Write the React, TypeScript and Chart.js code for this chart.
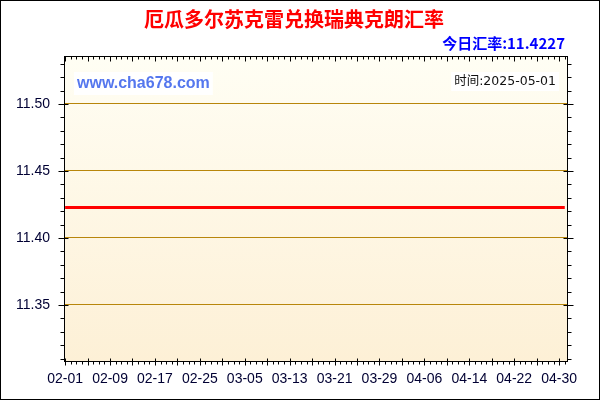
import React, { useEffect, useRef } from "react";
import { Chart, registerables } from "chart.js";

Chart.register(...registerables);

// day index 0 = 02-01, 89 = 05-01
const tickDays = [0, 8, 16, 24, 32, 40, 48, 56, 64, 72, 80, 88];
const tickLabels = [
  "02-01", "02-09", "02-17", "02-25", "03-05", "03-13",
  "03-21", "03-29", "04-06", "04-14", "04-22", "04-30",
];
const yTicks = [11.35, 11.4, 11.45, 11.5];

const rates = [
  11.4227, 11.4227, 11.4227, 11.4227, 11.4227, 11.4227, 11.4227, 11.4227, 11.4227, 11.4227,
  11.4227, 11.4227, 11.4227, 11.4227, 11.4227, 11.4227, 11.4227, 11.4227, 11.4227, 11.4227,
  11.4227, 11.4227, 11.4227, 11.4227, 11.4227, 11.4227, 11.4227, 11.4227, 11.4227, 11.4227,
  11.4227, 11.4227, 11.4227, 11.4227, 11.4227, 11.4227, 11.4227, 11.4227, 11.4227, 11.4227,
  11.4227, 11.4227, 11.4227, 11.4227, 11.4227, 11.4227, 11.4227, 11.4227, 11.4227, 11.4227,
  11.4227, 11.4227, 11.4227, 11.4227, 11.4227, 11.4227, 11.4227, 11.4227, 11.4227, 11.4227,
  11.4227, 11.4227, 11.4227, 11.4227, 11.4227, 11.4227, 11.4227, 11.4227, 11.4227, 11.4227,
  11.4227, 11.4227, 11.4227, 11.4227, 11.4227, 11.4227, 11.4227, 11.4227, 11.4227, 11.4227,
  11.4227, 11.4227, 11.4227, 11.4227, 11.4227, 11.4227, 11.4227, 11.4227, 11.4227, 11.4227,
];

const title = "厄瓜多尔苏克雷兑换瑞典克朗汇率";
const todayText = "今日汇率:11.4227";
const siteText = "www.cha678.com";
const timeText = "时间:2025-05-01";

const CJK = '"Noto Sans CJK SC", "Liberation Sans", sans-serif';
const TICK_FONT = '"Liberation Sans", sans-serif';

const framePlugin = {
  id: "frame",
  beforeDraw(chart: any) {
    const { ctx, chartArea: a } = chart;
    ctx.save();
    ctx.fillStyle = "#ffffff";
    ctx.fillRect(0, 0, chart.width, chart.height);
    const g = ctx.createLinearGradient(0, a.top, 0, a.bottom);
    g.addColorStop(0, "#fffef4");
    g.addColorStop(1, "#fdf0d6");
    ctx.fillStyle = g;
    ctx.fillRect(a.left, a.top, a.right - a.left, a.bottom - a.top);
    ctx.restore();
  },
  afterDraw(chart: any) {
    const { ctx, chartArea: a, scales } = chart;
    const x = scales.x;
    const y = scales.y;
    const L = Math.round(a.left) + 0.5;
    const R = Math.round(a.right) + 0.5;
    const T = Math.round(a.top) + 0.5;
    const B = Math.round(a.bottom) + 0.5;
    ctx.save();
    ctx.strokeStyle = "#000";
    ctx.lineWidth = 1;
    ctx.beginPath();
    // x ticks every day, major every 4 days
    for (let d = 0; d <= 89; d++) {
      const px = Math.round(x.getPixelForValue(d)) + 0.5;
      const major = d % 4 === 0;
      ctx.moveTo(px, major ? B - 3 : B);
      ctx.lineTo(px, B + (major ? 4 : 3));
      ctx.moveTo(px, T);
      ctx.lineTo(px, T + (major ? 5 : 3));
    }
    // y ticks every 0.01, major every 0.05
    for (let i = 1131; i <= 1153; i++) {
      const py = Math.round(y.getPixelForValue(i / 100)) + 0.5;
      const major = i % 5 === 0;
      ctx.moveTo(L - (major ? 6 : 4), py);
      ctx.lineTo(major ? L + 4 : L, py);
      ctx.moveTo(major ? R - 4 : R, py);
      ctx.lineTo(R + (major ? 6 : 4), py);
    }
    ctx.stroke();
    ctx.strokeRect(L, T, R - L, B - T);
    ctx.strokeRect(0.5, 0.5, chart.width - 1, chart.height - 1);

    // title
    ctx.textBaseline = "middle";
    ctx.textAlign = "center";
    ctx.fillStyle = "#ff0000";
    ctx.font = `bold 20px ${CJK}`;
    ctx.fillText(title, 294, 19);

    ctx.textAlign = "right";
    ctx.fillStyle = "#0000ff";
    ctx.font = `bold 15px ${CJK}`;
    ctx.fillText(todayText, 565, 43);

    // watermark
    ctx.textAlign = "left";
    ctx.font = 'bold 16px "Liberation Sans", sans-serif';
    const sw = ctx.measureText(siteText).width;
    ctx.fillStyle = "#ffffff";
    ctx.fillRect(74, 72, sw + 6, 23);
    ctx.fillStyle = "#5577ee";
    ctx.fillText(siteText, 77, 84);

    ctx.font = `12.5px "DejaVu Sans", ${CJK}`;
    const tw = ctx.measureText(timeText).width;
    ctx.fillStyle = "#ffffff";
    ctx.fillRect(556 - tw - 3, 72, tw + 6, 19);
    ctx.textAlign = "right";
    ctx.fillStyle = "#111111";
    ctx.fillText(timeText, 556, 82);
    ctx.restore();
  },
};

const App = () => {
  const canvasRef = useRef<HTMLCanvasElement | null>(null);

  useEffect(() => {
    document.body.style.margin = "0";
    if (!canvasRef.current) return;

    const chart = new Chart(canvasRef.current, {
      type: "line",
      data: {
        datasets: [
          {
            data: rates.map((v, i) => ({ x: i, y: v })),
            borderColor: "#ff0000",
            borderWidth: 3,
            pointRadius: 0,
            tension: 0,
          },
        ],
      },
      options: {
        animation: false,
        responsive: false,
        events: [],
        layout: { padding: { left: 0, top: 56, right: 33, bottom: 0 } },
        plugins: {
          legend: { display: false },
          title: { display: false },
          tooltip: { enabled: false },
        },
        scales: {
          x: {
            type: "linear",
            min: -0.2,
            max: 89.4,
            afterBuildTicks: (s: any) => {
              s.ticks = tickDays.map((v) => ({ value: v }));
            },
            afterFit: (s: any) => {
              s.height = 39;
            },
            grid: { display: false, drawTicks: false },
            border: { display: false },
            ticks: {
              autoSkip: false,
              maxRotation: 0,
              padding: 10,
              color: "#000033",
              font: { family: TICK_FONT, size: 14 },
              callback: (v: any) => tickLabels[tickDays.indexOf(Number(v))] ?? "",
            },
          },
          y: {
            type: "linear",
            min: 11.3082,
            max: 11.5358,
            afterBuildTicks: (s: any) => {
              s.ticks = yTicks.map((v) => ({ value: v }));
            },
            afterFit: (s: any) => {
              s.width = 64;
            },
            grid: { color: "#b8860b", lineWidth: 1, drawTicks: false },
            border: { display: false },
            ticks: {
              padding: 14,
              color: "#000033",
              font: { family: TICK_FONT, size: 14 },
              callback: (v: any) => Number(v).toFixed(2),
            },
          },
        },
      },
      plugins: [framePlugin],
    });

    return () => {
      chart.destroy();
    };
  }, []);

  return <canvas ref={canvasRef} width={600} height={400} style={{ display: "block" }} />;
};

export default App;
